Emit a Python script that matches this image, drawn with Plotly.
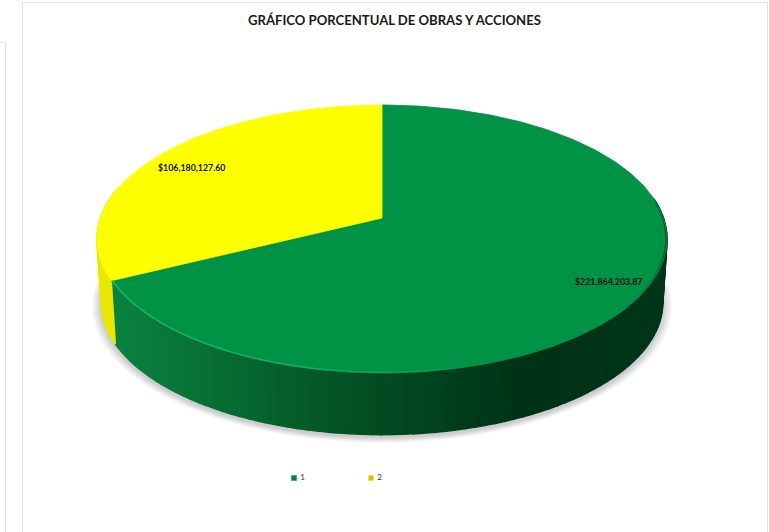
import numpy as np
import plotly.graph_objects as go

categories = ["1", "2"]
values = [221864203.87, 106180127.60]
title_text = "GRÁFICO PORCENTUAL DE OBRAS Y ACCIONES"

TOP = ["#009245", "#ffff00"]
CX, Y0, RX, H, K = 382.0, 218.0, 281.5, 130.7, 0.1567
BOT_Y0, BOT_S = 282.0, 0.985
FONT = "Lato, 'Open Sans', sans-serif"

shares = np.array(values) / sum(values)
edges = np.concatenate([[0], np.cumsum(shares)]) * 2 * np.pi


def proj(theta, r=1.0, s=1.0, y0=Y0):
    theta = np.asarray(theta, dtype=float)
    u, v = np.sin(theta) * r, np.cos(theta) * r
    w = 1 / (1 + K * v)
    return CX + RX * s * u * w, y0 - H * s * v * w


def lerp(stops, x):
    xs = [p[0] for p in stops]
    return "rgb(%d,%d,%d)" % tuple(np.interp(x, xs, [p[1][i] for p in stops]) for i in range(3))


SIDE_STOPS = [(100, (12, 132, 66)), (180, (9, 118, 56)), (280, (6, 96, 44)),
              (380, (3, 76, 34)), (470, (1, 60, 27)), (525, (0, 50, 23)), (670, (0, 54, 26))]
RIM_STOPS = [(100, (36, 185, 105)), (300, (30, 172, 98)), (430, (12, 155, 82)),
             (480, (0, 146, 69)), (625, (0, 146, 69)), (650, (0, 125, 58)), (670, (0, 85, 40))]

fig = go.Figure()


def poly(x, y, color, line=None, width=0.0):
    fig.add_trace(go.Scatter(x=x, y=y, mode="lines", fill="toself", fillcolor=color,
                             line=dict(color=line or color, width=width),
                             hoverinfo="skip", showlegend=False))


# soft shadow under the disc
t = np.linspace(0, 2 * np.pi, 240)
for e in np.linspace(0.034, 0.004, 10):
    x, y = proj(t, s=BOT_S + e, y0=BOT_Y0 + 3)
    poly(x, y, "rgba(0,0,0,0.02)", "rgba(0,0,0,0)")

# side wall, drawn in slices along the front of the disc
front = np.linspace(np.pi / 2 - 0.15, 2 * np.pi * 0.79, 110)
for a, b in zip(front[:-1], front[1:]):
    tt = np.linspace(a, b, 3)
    x1, y1 = proj(tt)
    x2, y2 = proj(tt[::-1], s=BOT_S, y0=BOT_Y0)
    xm = float(np.mean(x1))
    c = lerp(SIDE_STOPS, xm) if (a + b) / 2 < edges[1] else "#e8e800"
    poly(np.r_[x1, x2, x1[0]], np.r_[y1, y2, y1[0]], c, c, 1.5)

# top faces
for i in range(2):
    tt = np.linspace(edges[i], edges[i + 1], 200)
    x, y = proj(tt)
    xc, yc = proj(0.0, r=0.0)
    poly(np.r_[xc, x, xc], np.r_[yc, y, yc], TOP[i], TOP[i], 0.8)

# bevel highlight along the rim of the large slice
rim = np.linspace(np.pi / 2 - 0.12, edges[1], 130)
for a, b in zip(rim[:-1], rim[1:]):
    tt = np.array([a, b])
    x, y = proj(tt, r=0.996)
    fig.add_trace(go.Scatter(x=x, y=y, mode="lines", hoverinfo="skip", showlegend=False,
                             line=dict(color=lerp(RIM_STOPS, float(np.mean(x))), width=1.4)))

# legend entries
legend_pos = [(294, 478), (371, 478)]
for name, col, edge, (lx, ly) in zip(categories, ["#0a7a40", "#c8c800"], ["#4aa878", "#e8e850"], legend_pos):
    fig.add_trace(go.Scatter(x=[lx], y=[ly], mode="markers+text", name=name, text=[" " + name],
                             textposition="middle right", showlegend=False, hoverinfo="skip",
                             textfont=dict(family=FONT, size=8, color="#333333"),
                             marker=dict(symbol="square", size=5, color=col,
                                         line=dict(color=edge, width=1))))

label_pos = [(608, 281), (191, 167)]
annotations = [dict(x=px, y=py, xref="x", yref="y", showarrow=False,
                    text="${:,.2f}".format(v),
                    font=dict(family=FONT, size=8.8, color="#111111", weight="bold"))
               for (px, py), v in zip(label_pos, values)]
annotations.append(dict(x=394, y=20, xref="x", yref="y", showarrow=False, text=title_text,
                        font=dict(family=FONT, size=13.1, color="#1a1a1a", weight="bold")))

border = "#e2e2e2"
shapes = [
    dict(type="line", x0=22.5, x1=767.5, y0=2.5, y1=2.5),
    dict(type="line", x0=22.5, x1=22.5, y0=2.5, y1=532),
    dict(type="line", x0=767.5, x1=767.5, y0=2.5, y1=532),
    dict(type="line", x0=0, x1=5.5, y0=42.5, y1=42.5),
    dict(type="line", x0=5.5, x1=5.5, y0=42.5, y1=532),
]
for s in shapes:
    s.update(xref="x", yref="y", line=dict(color=border, width=1), layer="below")

fig.update_layout(
    width=769, height=532, margin=dict(l=0, r=0, t=0, b=0),
    paper_bgcolor="white", plot_bgcolor="white", showlegend=False,
    xaxis=dict(range=[0, 769], visible=False, fixedrange=True),
    yaxis=dict(range=[532, 0], visible=False, fixedrange=True),
    annotations=annotations, shapes=shapes,
)
fig.write_html("out.html", config=dict(displayModeBar=False),
               post_script="document.body.style.margin='0';document.body.style.overflow='hidden';")
